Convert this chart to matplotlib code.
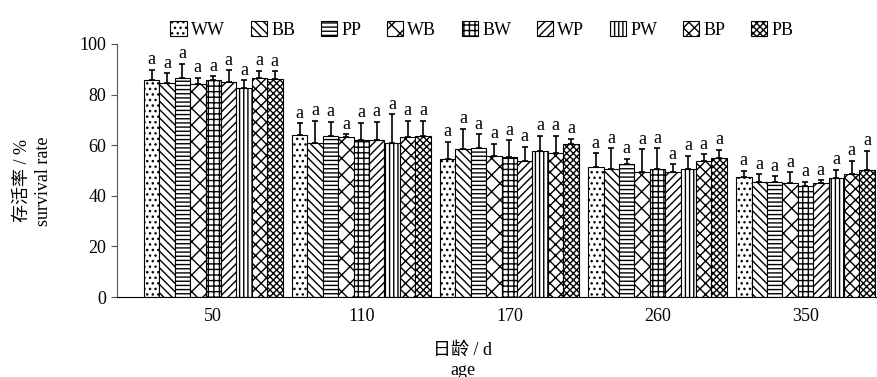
import numpy as np
import matplotlib.pyplot as plt
from matplotlib.patches import Patch

plt.rcParams['font.family'] = ['Liberation Serif', 'Noto Sans CJK SC']
plt.rcParams['hatch.linewidth'] = 1.0

ages = ['50', '110', '170', '260', '350']
groups = ['WW', 'BB', 'PP', 'WB', 'BW', 'WP', 'PW', 'BP', 'PB']
hatches = ['...', '\\\\\\\\', '----', 'xx', '+++', '////', '||||', 'xxx', 'xxxxx']

# survival rate (%) by age, one value per group in the order above
mean_50 = [85.8, 84.5, 86.7, 84.1, 85.8, 85.1, 82.7, 86.4, 86.2]
mean_110 = [64.0, 61.0, 63.6, 63.1, 62.0, 62.0, 61.0, 63.4, 63.6]
mean_170 = [54.5, 58.5, 59.0, 55.9, 55.5, 53.9, 57.8, 57.0, 60.3]
mean_260 = [51.5, 50.6, 52.6, 49.5, 50.5, 49.3, 50.5, 53.8, 54.8]
mean_350 = [47.3, 45.6, 45.6, 45.2, 43.9, 44.9, 46.9, 48.5, 50.2]

err_50 = [4.0, 4.0, 5.5, 2.6, 1.5, 4.6, 3.0, 3.0, 3.0]
err_110 = [4.6, 8.6, 5.6, 1.3, 6.9, 7.3, 11.2, 6.3, 6.0]
err_170 = [6.9, 7.9, 5.4, 4.6, 6.5, 5.5, 6.0, 6.8, 2.2]
err_260 = [5.3, 8.2, 2.1, 8.9, 8.3, 3.2, 5.4, 2.7, 3.3]
err_350 = [2.6, 3.0, 2.2, 4.1, 1.7, 1.3, 3.3, 5.4, 7.5]

means = np.array([mean_50, mean_110, mean_170, mean_260, mean_350])
errs = np.array([err_50, err_110, err_170, err_260, err_350])

fig = plt.figure(figsize=(8.78, 3.77), dpi=100)
ax = fig.add_axes([0.1333, 0.2122, 0.8667, 0.6711])

x = np.arange(len(ages))
w = 0.104
for i, g in enumerate(groups):
    pos = x + (i - 4) * w
    ax.bar(pos, means[:, i], w, color='white', edgecolor='black',
           linewidth=0.8, hatch=hatches[i], zorder=2)
    ax.errorbar(pos, means[:, i], yerr=[np.zeros(len(ages)), errs[:, i]],
                fmt='none', ecolor='black', elinewidth=1.2, capsize=2,
                capthick=1.2, zorder=3)
    for xp, top in zip(pos, means[:, i] + errs[:, i]):
        ax.text(xp, top + 0.6, 'a', ha='center', va='bottom', fontsize=13)

ax.set_xlim(-0.65, 4.49)
ax.set_ylim(0, 100)
ax.set_yticks([0, 20, 40, 60, 80, 100])
ax.set_xticks(x)
ax.set_xticklabels(ages)
ax.tick_params(axis='y', direction='out', length=4, labelsize=13, color='#555555')
ax.tick_params(axis='x', direction='in', length=4, labelsize=13, pad=8)
ax.spines['top'].set_visible(False)
ax.spines['right'].set_visible(False)
ax.spines['left'].set_color('#555555')

fig.text(0.026, 0.52, '存活率 / %', rotation=90, ha='center', va='center', fontsize=13)
fig.text(0.049, 0.52, 'survival rate', rotation=90, ha='center', va='center', fontsize=13)
fig.text(0.527, 0.072, '日龄 / d', ha='center', va='center', fontsize=13)
fig.text(0.527, 0.018, 'age', ha='center', va='center', fontsize=13)

handles = [Patch(facecolor='white', edgecolor='black', hatch=h, linewidth=0.8) for h in hatches]
fig.legend(handles, groups, loc='center', bbox_to_anchor=(0.549, 0.92), ncol=9,
           frameon=False, fontsize=13, handlelength=0.9, handleheight=0.9,
           handletextpad=0.25, columnspacing=1.4)

plt.savefig('out.png', dpi=100)
